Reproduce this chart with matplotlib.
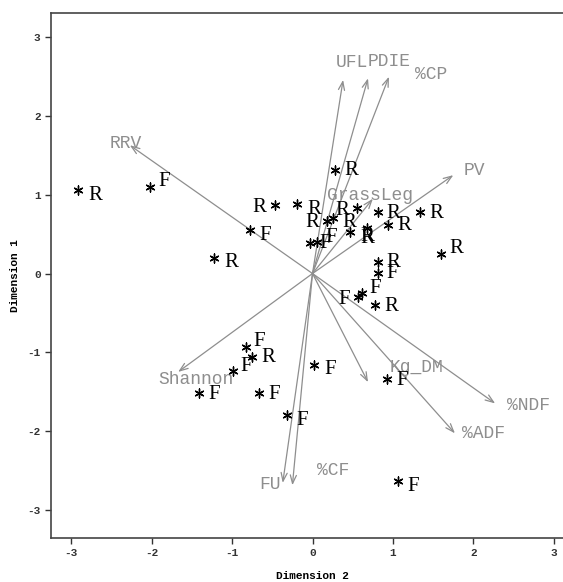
import matplotlib
matplotlib.use("Agg")
import matplotlib.pyplot as plt

# Observation scores (Dimension 2 on x, Dimension 1 on y) and group codes
obs_x = [-2.91, -2.02, -0.78, -1.22, -0.47, -0.19, 0.28, 0.18, 0.25, -0.03, 0.06,
         0.55, 0.47, 0.68, 0.81, 1.34, 0.94, 1.60, 0.81, 0.81, 0.57, 0.61, 0.78,
         -0.83, -0.75, -0.99, -1.41, -0.66, -0.32, 0.02, 0.93, 1.06]
obs_y = [1.06, 1.10, 0.55, 0.20, 0.87, 0.88, 1.32, 0.67, 0.71, 0.39, 0.40,
         0.83, 0.53, 0.58, 0.78, 0.78, 0.62, 0.25, 0.15, 0.01, -0.30, -0.25, -0.40,
         -0.93, -1.06, -1.24, -1.52, -1.52, -1.80, -1.16, -1.34, -2.64]
obs_group = ["R", "F", "F", "R", "R", "R", "R", "R", "R", "F", "F",
             "R", "R", "R", "R", "R", "R", "R", "R", "F", "F", "F", "R",
             "F", "R", "F", "F", "F", "F", "F", "F", "F"]
# where each group code sits next to its star
obs_place = ["rd", "ru", "rd", "rd", "l", "rd", "r", "l", "rd", "r", "ru",
             "l", "rd", "b", "r", "r", "r", "ru", "r", "r", "l", "ru", "r",
             "ru", "r", "ru", "r", "r", "rd", "rd", "r", "rd"]

# Variable loadings
var_names = ["RRV", "UFL", "PDIE", "%CP", "PV", "GrassLeg", "Shannon",
             "FU", "%CF", "Kg_DM", "%NDF", "%ADF"]
var_x = [-2.27, 0.38, 0.69, 0.95, 1.75, 0.75, -1.67, -0.37, -0.25, 0.69, 2.27, 1.77]
var_y = [1.63, 2.46, 2.48, 2.50, 1.25, 0.95, -1.25, -2.66, -2.69, -1.38, -1.65, -2.03]

ticks = [-3, -2, -1, 0, 1, 2, 3]

MONO = "Liberation Mono"
SERIF = "Liberation Serif"
GREY = "#8e8e8e"

place_off = {"r": (9, -1, "left"), "rd": (10, -5, "left"), "ru": (8, 5, "left"),
             "l": (-8, -2, "right"), "b": (0, -11, "center")}
var_off = {"RRV": (-4, 2, "center"), "UFL": (-7, 17, "left"), "PDIE": (0, 17, "left"),
           "%CP": (26, 2, "left"), "PV": (10, 5, "left"), "GrassLeg": (-3, 3, "center"),
           "Shannon": (18, -8, "center"), "FU": (-2, -2, "right"),
           "%CF": (25, 15, "left"), "Kg_DM": (22, 15, "left"),
           "%NDF": (12, -2, "left"), "%ADF": (7, 0, "left")}

W, H = 563, 582
fig = plt.figure(figsize=(W / 100, H / 100), dpi=100)
left, right, top, bottom = 51, 574, 13, 538
ax = fig.add_axes([left / W, 1 - bottom / H, (right - left) / W, (bottom - top) / H])
ax.set_xlim(-3.25, 3.25)
ax.set_ylim(-3.36, 3.31)

# loading vectors
for name, vx, vy in zip(var_names, var_x, var_y):
    ax.annotate("", xy=(vx, vy), xytext=(0, 0),
                arrowprops=dict(arrowstyle="->,head_length=0.6,head_width=0.22",
                                color=GREY, lw=0.9, shrinkA=0, shrinkB=0))
    dx, dy, ha = var_off[name]
    ax.annotate(name, xy=(vx, vy), xytext=(dx, dy), textcoords="offset pixels",
                ha=ha, va="center", fontsize=13, family=MONO, color=GREY)

# observations
ax.scatter(obs_x, obs_y, marker=(6, 2, 0), s=42, color="black", linewidths=1.0, zorder=3)
for x, y, g, p in zip(obs_x, obs_y, obs_group, obs_place):
    dx, dy, ha = place_off[p]
    ax.annotate(g, xy=(x, y), xytext=(dx, dy), textcoords="offset pixels",
                ha=ha, va="center", fontsize=15, family=SERIF, color="black", zorder=4)

ax.set_xticks(ticks)
ax.set_yticks(ticks)
ax.set_xticklabels([str(t) for t in ticks])
ax.set_yticklabels([str(t) for t in ticks])
ax.tick_params(direction="out", length=4, width=1, colors="#333333", labelsize=8,
               top=False, right=False)
for lab in ax.get_xticklabels() + ax.get_yticklabels():
    lab.set_family(MONO)
    lab.set_fontweight("bold")
for s in ax.spines.values():
    s.set_color("#444444")
    s.set_linewidth(1.2)

ax.set_xlabel("Dimension 2", family=MONO, fontweight="bold", fontsize=8, labelpad=9)
ax.set_ylabel("Dimension 1", family=MONO, fontweight="bold", fontsize=8, labelpad=5)

fig.savefig("out.png", dpi=100)
